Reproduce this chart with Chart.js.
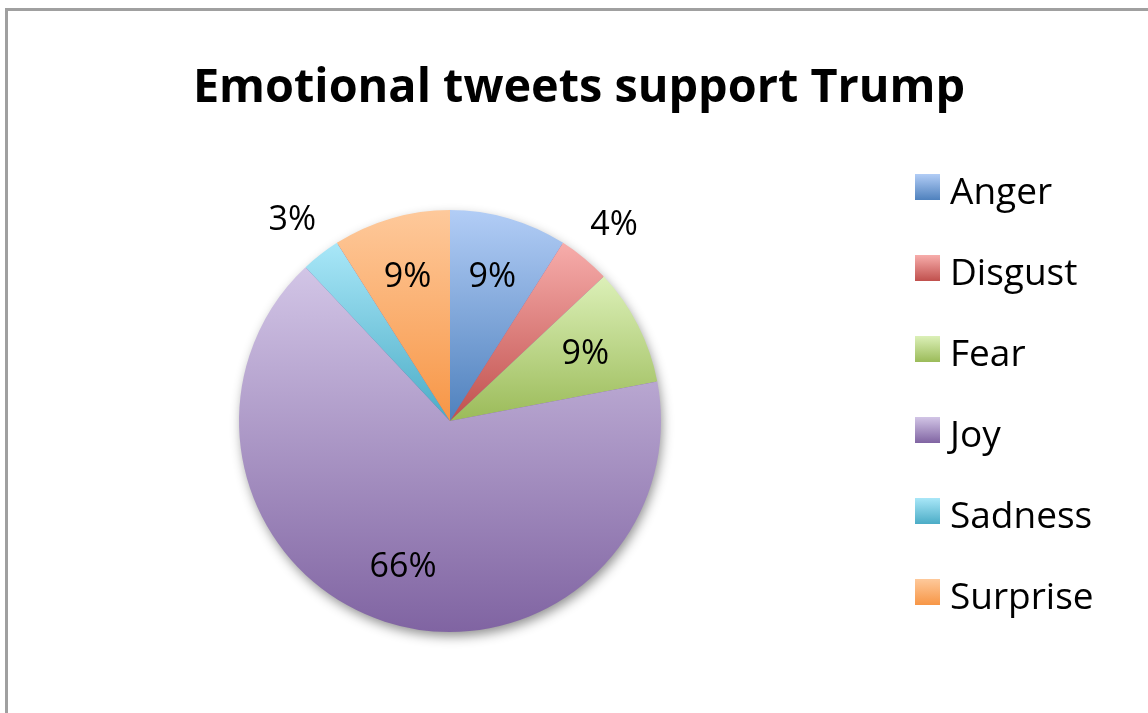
<!DOCTYPE html>
<html>
<head>
<meta charset="utf-8">
<script src="https://cdn.jsdelivr.net/npm/chart.js@4/dist/chart.umd.min.js"></script>
<style>
  html, body { margin: 0; padding: 0; background: #fff; }
  #frame {
    position: absolute; left: 5px; top: 8px; width: 1200px; height: 800px;
    border-left: 3px solid #a0a0a0; border-top: 3px solid #a0a0a0;
  }
  #myChart { position: absolute; left: 0; top: 0; }
</style>
</head>
<body>
<div id="frame"></div>
<canvas id="myChart" width="1148" height="713"></canvas>
<script>
// emotion categories and their share of tweets (%)
const categorias = ['Anger', 'Disgust', 'Fear', 'Joy', 'Sadness', 'Surprise'];
const porcentajes = [9, 4, 9, 66, 3, 9];
const titulo = 'Emotional tweets support Trump';

// gradient colours per slice: light at the top, base colour at the bottom
const coloresClaros = ['#b2cdf6', '#f7adab', '#dcf0b8', '#d2c5e6', '#a9e7f8', '#fec99b'];
const coloresBase = ['#4f81bd', '#c0504d', '#9bbb59', '#8064a2', '#4bacc6', '#f79646'];

const FUENTE = '"Open Sans", "Noto Sans", sans-serif';

document.addEventListener('DOMContentLoaded', function(){
    iniciarApp();
});

function iniciarApp(){
    dibujarGrafica();
}

// vertical extent of a slice (center + arc) for its gradient
function extensionVertical(cx, cy, r, a0, a1){
    let ys = [cy, cy + r * Math.sin(a0), cy + r * Math.sin(a1)];
    // top of circle is -PI/2, bottom is PI/2 (angles run clockwise)
    [-Math.PI / 2, Math.PI / 2, 3 * Math.PI / 2].forEach(a => {
        if (a > a0 && a < a1) ys.push(cy + r * Math.sin(a));
    });
    return [Math.min(...ys), Math.max(...ys)];
}

function colorSector(context){
    const chart = context.chart;
    const area = chart.chartArea;
    if (!area) return coloresBase[context.dataIndex];
    const i = context.dataIndex;
    const total = porcentajes.reduce((a, b) => a + b, 0);
    const antes = porcentajes.slice(0, i).reduce((a, b) => a + b, 0);
    const a0 = antes / total * 2 * Math.PI - Math.PI / 2;
    const a1 = (antes + porcentajes[i]) / total * 2 * Math.PI - Math.PI / 2;
    const cx = (area.left + area.right) / 2;
    const cy = (area.top + area.bottom) / 2;
    const r = Math.min(area.right - area.left, area.bottom - area.top) / 2;
    const [y0, y1] = extensionVertical(cx, cy, r, a0, a1);
    const g = chart.ctx.createLinearGradient(0, y0, 0, y1);
    g.addColorStop(0, coloresClaros[i]);
    g.addColorStop(1, coloresBase[i]);
    return g;
}

// soft shadow under the whole pie
const sombraPie = {
    id: 'sombraPie',
    beforeDatasetsDraw(chart){
        const arc = chart.getDatasetMeta(0).data[0];
        if (!arc) return;
        const ctx = chart.ctx;
        ctx.save();
        ctx.shadowColor = 'rgba(0,0,0,0.45)';
        ctx.shadowBlur = 12;
        ctx.shadowOffsetX = 2;
        ctx.shadowOffsetY = 5;
        ctx.fillStyle = '#8064a2';
        ctx.beginPath();
        ctx.arc(arc.x, arc.y, arc.outerRadius - 1, 0, 2 * Math.PI);
        ctx.fill();
        ctx.restore();
    }
};

// percentage labels: inside for big slices, outside for small ones
const etiquetas = {
    id: 'etiquetas',
    afterDatasetsDraw(chart){
        const ctx = chart.ctx;
        ctx.save();
        ctx.font = '34px ' + FUENTE;
        ctx.fillStyle = '#000';
        ctx.textAlign = 'center';
        ctx.textBaseline = 'alphabetic';
        chart.getDatasetMeta(0).data.forEach((arc, i) => {
            const medio = (arc.startAngle + arc.endAngle) / 2;
            const factor = porcentajes[i] < 5 ? 1.22 : 0.72;
            const x = arc.x + Math.cos(medio) * arc.outerRadius * factor;
            const y = arc.y + Math.sin(medio) * arc.outerRadius * factor;
            ctx.fillText(porcentajes[i] + '%', x, y + 12);
        });
        ctx.restore();
    }
};

// title and legend on the right
const tituloYLeyenda = {
    id: 'tituloYLeyenda',
    afterDraw(chart){
        const ctx = chart.ctx;
        ctx.save();
        ctx.fillStyle = '#000';
        ctx.textBaseline = 'alphabetic';
        ctx.textAlign = 'center';
        ctx.font = 'bold 46.8px ' + FUENTE;
        ctx.fillText(titulo, 579, 102);

        ctx.textAlign = 'left';
        ctx.font = '37px ' + FUENTE;
        categorias.forEach((nombre, i) => {
            const yb = 174 + i * 81;
            const g = ctx.createLinearGradient(0, yb, 0, yb + 26);
            g.addColorStop(0, coloresClaros[i]);
            g.addColorStop(1, coloresBase[i]);
            ctx.fillStyle = g;
            ctx.fillRect(915, yb, 25, 26);
            ctx.fillStyle = '#000';
            ctx.fillText(nombre, 950, 204 + i * 81);
        });
        ctx.restore();
    }
};

function dibujarGrafica(){
    const ctx = document.getElementById('myChart').getContext('2d');
    new Chart(ctx, {
        type: 'pie',
        data: {
            labels: categorias,
            datasets: [{
                data: porcentajes,
                backgroundColor: colorSector,
                borderWidth: 0
            }]
        },
        options: {
            responsive: false,
            animation: false,
            events: [],
            layout: {
                padding: { left: 239, right: 487, top: 210, bottom: 81 }
            },
            plugins: {
                legend: { display: false },
                title: { display: false },
                tooltip: { enabled: false }
            }
        },
        plugins: [sombraPie, etiquetas, tituloYLeyenda]
    });
}
</script>
</body>
</html>
